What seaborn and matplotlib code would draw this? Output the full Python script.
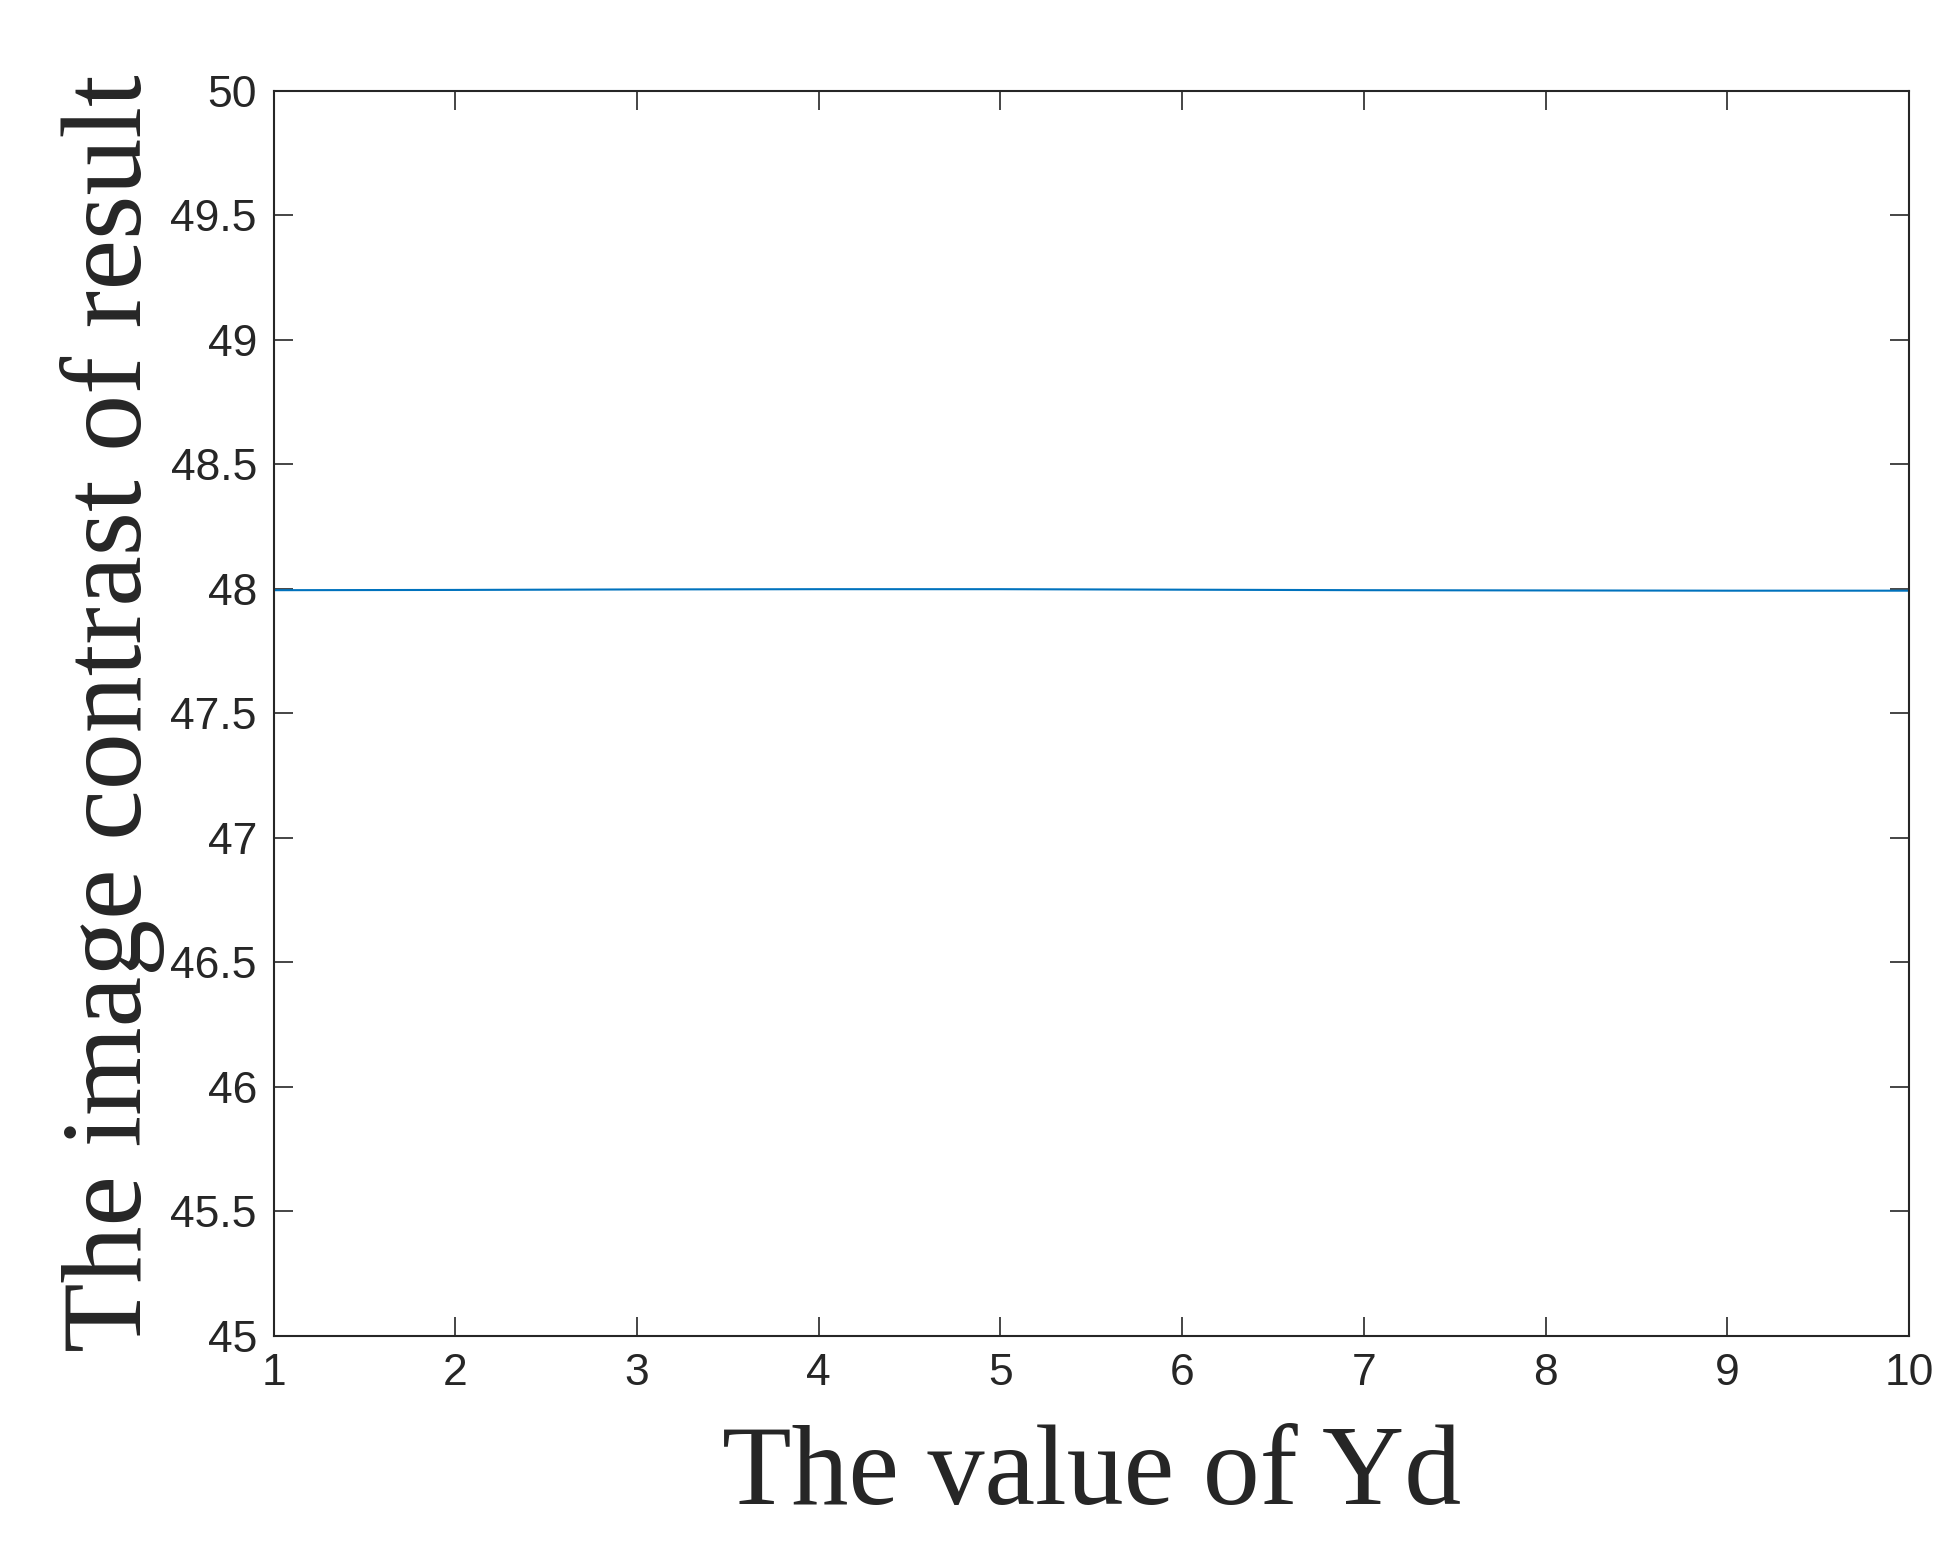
import matplotlib
matplotlib.use('Agg')
import matplotlib.pyplot as plt
import seaborn as sns
import pandas as pd

yd = [1, 2, 3, 4, 5, 6, 7, 8, 9, 10]
contrast = [47.995, 47.996, 47.998, 47.999, 47.999, 47.997, 47.995, 47.994, 47.993, 47.993]


def main():
    sns.set_style("ticks")
    df = pd.DataFrame({"yd": yd, "contrast": contrast})
    fig = plt.figure(figsize=(19.54, 15.68), dpi=100)
    ax = fig.add_axes([0.14, 0.148, 0.837, 0.794])
    sns.lineplot(data=df, x="yd", y="contrast", ax=ax, color="#0072BD", linewidth=1.5)
    ax.set_xlim(1, 10)
    ax.set_ylim(45, 50)
    ax.set_xticks(range(1, 11))
    ax.set_yticks([45 + 0.5 * i for i in range(11)])
    ax.set_yticklabels(["45", "45.5", "46", "46.5", "47", "47.5", "48", "48.5", "49", "49.5", "50"])
    ax.tick_params(direction="in", length=14, width=1.2, labelsize=32, colors="#262626",
                   top=True, right=True, pad=12)
    for lab in ax.get_xticklabels() + ax.get_yticklabels():
        lab.set_family("Liberation Sans")
    for s in ax.spines.values():
        s.set_linewidth(1.5)
        s.set_color("#262626")
    ax.set_xlabel("The value of Yd", family="Liberation Serif", fontsize=82, color="#262626", labelpad=22)
    ax.set_ylabel("The image contrast of result", family="Liberation Serif", fontsize=82, color="#262626", labelpad=4)
    plt.savefig("out.png", dpi=100)


if __name__ == "__main__":
    main()
